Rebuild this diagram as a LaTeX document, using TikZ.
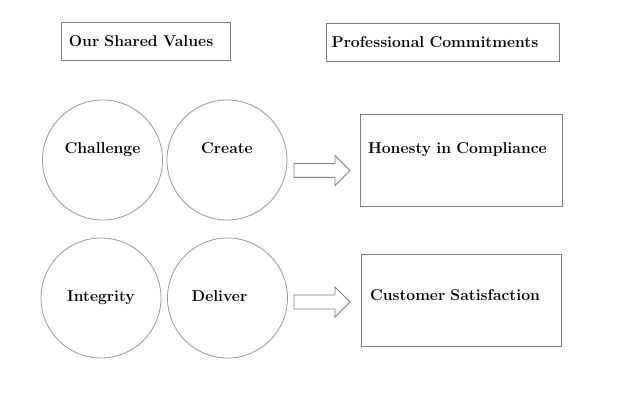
\documentclass[tikz,border=0pt]{standalone}
\usepackage{tikz}
\usetikzlibrary{shapes,arrows.meta,positioning}

\begin{document}
\begin{tikzpicture}[x=1pt, y=-1pt,
    every node/.style={font=\fontsize{15.7}{18}\selectfont\bfseries},
    titlebox/.style={rectangle, draw=black!50, line width=0.8pt, minimum height=38.7pt, align=left, text height=10.5pt, text depth=3pt},
    valuecircle/.style={circle, draw=black!40, line width=0.8pt, minimum size=120pt, inner sep=0pt, text height=10.5pt, text depth=3pt},
    commitbox/.style={rectangle, draw=black!50, line width=0.8pt, minimum height=92pt, align=left, text height=10.5pt, text depth=3pt},
    blockarrow/.style={single arrow, draw=black!50, line width=0.8pt, minimum height=56pt, inner xsep=0pt, inner ysep=6.5pt, text height=0pt, text depth=0pt, single arrow head extend=8pt}]
        \useasboundingbox (0,0) rectangle (622,401);

        % Headings
        \node[titlebox, minimum width=169.7pt, inner xsep=8pt, text width=153.7pt] (Values) at (145.8, 41.4) {\raisebox{-1.8pt}{Our Shared Values}};
        \node[titlebox, minimum width=233pt, inner xsep=5.7pt, text width=221.6pt] (Commit) at (442.5, 42.3) {\raisebox{-1.8pt}{Professional Commitments}};

        % Values
        \node[valuecircle] (Challenge) at (102.5, 160) {\raisebox{9.75pt}{Challenge}};
        \node[valuecircle] (Create) at (227, 160) {\raisebox{9.75pt}{Create}};
        \node[valuecircle] (Integrity) at (101, 298) {Integrity};
        \node[valuecircle] (Deliver) at (227.5, 298) {\hspace*{-16pt}Deliver};

        % Commitments
        \node[commitbox, minimum width=201.3pt, inner xsep=7.3pt, text width=186.7pt] (Honesty) at (461.4, 160) {\raisebox{9.75pt}{Honesty in Compliance}};
        \node[commitbox, minimum width=200pt, inner xsep=8.3pt, text width=183.4pt] (Customer) at (461.7, 300) {\raisebox{2.75pt}{Customer Satisfaction}};

        % Block arrows
        \node[blockarrow] (ArrowA) at (318.5, 170.5) {};
        \node[blockarrow] (ArrowB) at (318.5, 302) {};
\end{tikzpicture}
\end{document}
